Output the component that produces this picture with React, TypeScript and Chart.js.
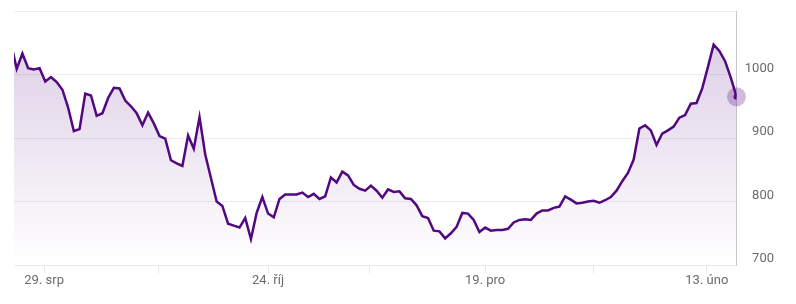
import { useEffect, useRef } from 'react';
import { Chart, registerables } from 'chart.js';

Chart.register(...registerables);

// Closing prices (trading-day sequence); the first one sits just left of the visible window
const prices = [
  1049, 1009, 1033, 1010, 1008, 1010, 989, 996, 988, 976,
  948, 911, 914, 970, 967, 935, 939, 963, 979, 978,
  959, 950, 939, 920, 940, 923, 903, 899, 865, 860,
  856, 904, 883, 933, 874, 837, 800, 793, 765, 762,
  759, 774, 741, 782, 807, 781, 775, 804, 811, 811,
  811, 814, 807, 812, 804, 808, 838, 830, 847, 841,
  826, 820, 817, 825, 817, 806, 819, 815, 816, 805,
  804, 794, 777, 774, 754, 753, 742, 750, 760, 782,
  781, 771, 752, 759, 754, 755, 755, 757, 767, 771,
  772, 771, 781, 786, 786, 790, 792, 808, 803, 797,
  798, 800, 801, 798, 802, 807, 817, 832, 845, 866,
  915, 920, 912, 889, 907, 912, 918, 932, 936, 954,
  955, 978, 1012, 1047, 1037, 1021, 995, 965,
];

// Visible window start (in trading-day index units)
const windowStart = 0.525;

// X-axis tick positions (trading-day index) and their labels
const xTickPositions = [5.8, 25.9, 45, 62.8, 83, 101.9, 121.8];
const xTickLabels = ['29. srp', '', '24. říj', '', '19. pro', '', '13. úno'];

// Y-axis ticks
const yTickValues = [700, 800, 900, 1000, 1100];
const yTickLabels = ['700', '800', '900', '1000', ''];
const yMin = 700;
const yMax = 1100;

const LINE = '#52087f';
const LABEL = '#6b6b6b';
const FONT = { family: 'Roboto', size: 13 };

export default function App() {
  const ref = useRef<HTMLCanvasElement>(null);

  useEffect(() => {
    const last = prices.length - 1;
    const points = prices.map((v, i) => ({ x: i, y: v }));
    const chart = new Chart(ref.current!, {
      type: 'line',
      data: {
        datasets: [
          {
            data: points,
            borderColor: LINE,
            borderWidth: 2.5,
            tension: 0,
            fill: 'start',
            backgroundColor: (ctx: any) => {
              const { chart: ch } = ctx;
              const area = ch.chartArea;
              if (!area) return 'rgba(85,10,130,0.1)';
              const g = ch.ctx.createLinearGradient(0, area.top, 0, area.bottom);
              g.addColorStop(0, 'rgba(85,10,130,0.22)');
              g.addColorStop(1, 'rgba(85,10,130,0)');
              return g;
            },
            pointRadius: (ctx: any) => (ctx.dataIndex === last ? 3 : 0),
            pointBackgroundColor: LINE,
            pointBorderWidth: 0,
            order: 0,
          },
          {
            data: [points[last]],
            showLine: false,
            fill: false,
            pointRadius: 9.5,
            pointBackgroundColor: 'rgba(85,10,130,0.28)',
            pointBorderWidth: 0,
            clip: false as any,
            order: 1,
          },
        ],
      },
      options: {
        animation: false,
        responsive: true,
        maintainAspectRatio: false,
        layout: { autoPadding: false, padding: { left: 14, top: 11, right: 22, bottom: 0 } },
        plugins: {
          legend: { display: false },
          tooltip: { enabled: false },
        },
        scales: {
          x: {
            type: 'linear',
            min: windowStart,
            max: last,
            afterBuildTicks: (s: any) => {
              s.ticks = xTickPositions.map((v) => ({ value: v }));
            },
            afterFit: (s: any) => {
              s.height = 39;
              s.paddingLeft = 0;
              s.paddingRight = 0;
            },
            ticks: {
              autoSkip: false,
              maxRotation: 0,
              padding: 0,
              color: LABEL,
              font: FONT,
              callback: (_v: any, i: number) => xTickLabels[i],
            },
            grid: {
              drawOnChartArea: false,
              drawTicks: true,
              tickLength: 8,
              color: '#e4e4ea',
            },
            border: { display: true, color: '#e8e8ee' },
          },
          y: {
            position: 'right',
            min: yMin,
            max: yMax,
            afterBuildTicks: (s: any) => {
              s.ticks = yTickValues.map((v) => ({ value: v }));
            },
            afterFit: (s: any) => {
              s.width = 37.5;
              s.paddingTop = 0;
              s.paddingBottom = 0;
            },
            ticks: {
              padding: 8,
              crossAlign: 'far',
              labelOffset: -6,
              color: LABEL,
              font: FONT,
              callback: (_v: any, i: number) => yTickLabels[i],
            },
            grid: { drawTicks: false, color: '#ececf1' },
            border: { display: true, color: '#c6c6cc' },
          },
        },
      },
    });
    return () => chart.destroy();
  }, []);

  return (
    <div style={{ position: 'absolute', left: 0, top: 0, width: 796, height: 304 }}>
      <canvas ref={ref} />
    </div>
  );
}
